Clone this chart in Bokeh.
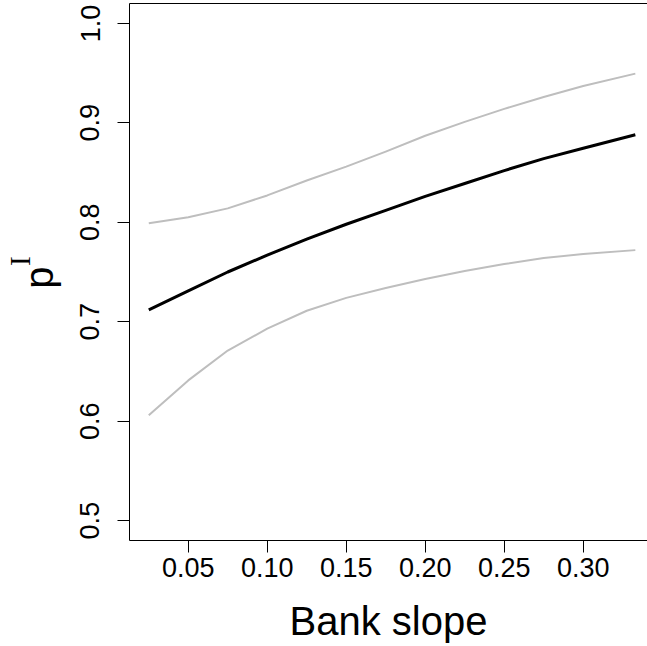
import math
from bokeh.plotting import figure
from bokeh.models import LinearAxis, FixedTicker, Range1d
from bokeh.embed import file_html
from bokeh.resources import INLINE

# Data
bank_slope = [0.025, 0.05, 0.075, 0.10, 0.125, 0.15, 0.175, 0.20, 0.225, 0.25, 0.275, 0.30, 0.333]
p_mean =     [0.712, 0.731, 0.750, 0.767, 0.783, 0.798, 0.812, 0.826, 0.839, 0.852, 0.864, 0.8745, 0.888]
p_upper =    [0.799, 0.805, 0.814, 0.827, 0.842, 0.856, 0.871, 0.887, 0.901, 0.914, 0.926, 0.937, 0.9495]
p_lower =    [0.606, 0.641, 0.671, 0.693, 0.711, 0.724, 0.734, 0.743, 0.751, 0.758, 0.764, 0.768, 0.772]

x_ticks = [0.05, 0.10, 0.15, 0.20, 0.25, 0.30]
x_tick_labels = ["0.05", "0.10", "0.15", "0.20", "0.25", "0.30"]
y_ticks = [0.5, 0.6, 0.7, 0.8, 0.9, 1.0]
y_tick_labels = ["0.5", "0.6", "0.7", "0.8", "0.9", "1.0"]

FONT = "Liberation Sans"
NBSP = "\u00a0"

X0, X1 = 0.0128, 0.3407
Y0, Y1 = 0.48, 1.02
H = 646

p = figure(width=647, height=H, output_backend="svg", toolbar_location=None,
           x_range=Range1d(X0, X1), y_range=Range1d(Y0, Y1),
           min_border_left=129, min_border_right=0, min_border_top=3, min_border_bottom=106)
p.outline_line_color = None
p.background_fill_color = "white"
p.border_fill_color = "white"
p.xgrid.visible = False
p.ygrid.visible = False

p.line(bank_slope, p_upper, line_color="#BEBEBE", line_width=2, line_join="round")
p.line(bank_slope, p_lower, line_color="#BEBEBE", line_width=2, line_join="round")
p.line(bank_slope, p_mean, line_color="black", line_width=3, line_join="round")

xa = p.xaxis[0]
xa.ticker = FixedTicker(ticks=x_ticks)
xa.major_label_overrides = {t: l for t, l in zip(x_ticks, x_tick_labels)}
xa.axis_label = "Bank slope"
xa.axis_label_text_font = FONT
xa.axis_label_text_font_size = "40px"
xa.axis_label_text_font_style = "normal"
xa.axis_label_text_color = "black"
xa.axis_label_text_line_height = 1.0
xa.axis_label_standoff = 19

ya = p.yaxis[0]
ya.ticker = FixedTicker(ticks=y_ticks)
ya.major_label_overrides = {t: l for t, l in zip(y_ticks, y_tick_labels)}
ya.major_label_orientation = "vertical"
ya.axis_label = "p" + NBSP
ya.axis_label_text_font = FONT
ya.axis_label_text_font_size = "40px"
ya.axis_label_text_font_style = "normal"
ya.axis_label_text_color = "black"
ya.axis_label_standoff = 17

for ax, so in ((xa, 5), (ya, 18)):
    ax.axis_line_color = "black"
    ax.axis_line_width = 1
    ax.major_tick_line_color = "black"
    ax.major_tick_in = 0
    ax.major_tick_out = 12
    ax.minor_tick_line_color = None
    ax.major_label_text_font = FONT
    ax.major_label_text_font_size = "27px"
    ax.major_label_text_color = "black"
    ax.major_label_standoff = so

# superscript "I" of the y title, as an outer (invisible) left axis label
sup = LinearAxis(ticker=FixedTicker(ticks=[]), axis_line_color=None,
                 major_tick_line_color=None, minor_tick_line_color=None,
                 major_tick_out=0, major_tick_in=0, major_label_standoff=0,
                 axis_label=NBSP * 3 + "I", axis_label_text_font="Liberation Serif",
                 axis_label_text_font_size="29px", axis_label_text_font_style="normal",
                 axis_label_text_color="black", axis_label_standoff=-22)
p.add_layout(sup, "left")

# top frame line
top = LinearAxis(ticker=FixedTicker(ticks=[]), axis_line_color="black",
                 major_tick_line_color=None, minor_tick_line_color=None,
                 major_tick_out=0, major_tick_in=0, major_label_standoff=0,
                 major_label_text_font_size="0px")
p.add_layout(top, "above")

open("out.html", "w").write(file_html(p, INLINE))
